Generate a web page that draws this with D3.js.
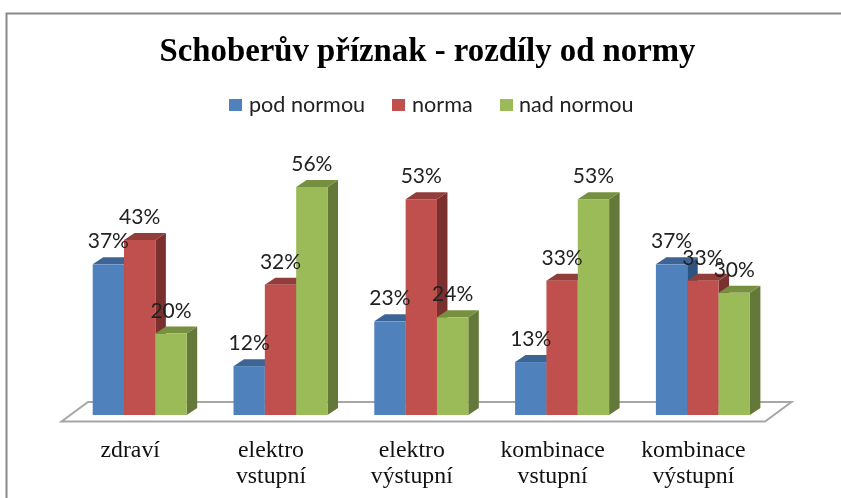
<!DOCTYPE html>
<html><head><meta charset="utf-8">
<script src="https://cdn.jsdelivr.net/npm/d3@7"></script>
<style>html,body{margin:0;padding:0;background:#fff}svg{display:block}</style>
</head><body><svg id="c" width="841" height="498"></svg>
<script>
const titleText = "Schoberův příznak - rozdíly od normy";
const categories = [["zdraví"],["elektro","vstupní"],["elektro","výstupní"],["kombinace","vstupní"],["kombinace","výstupní"]];
const seriesNames = ["pod normou","norma","nad normou"];
const podNormou = [37,12,23,13,37];
const norma = [43,32,53,33,33];
const nadNormou = [20,56,24,53,30];
const colors = ["#4f81bd","#c0504d","#9bbb59"];
const topColors = ["#3c6494","#933d3a","#76903f"];
const sideColors = ["#2f5380","#7a302e","#64783a"];
const series = [podNormou,norma,nadNormou];

const svg = d3.select("#c");
const serif = "'Liberation Serif',serif", sans = "Lato,sans-serif";
const base = 415, dx = 10.5, dy = 7;

// frame
svg.append("path").attr("d","M6.5,498V13.5H841").attr("fill","none").attr("stroke","#8a8a8a").attr("stroke-width",2);

const x0 = d3.scaleBand().domain(d3.range(5)).range([51.5,755.5]).paddingInner(0).paddingOuter(0);
const x1 = d3.scaleBand().domain(d3.range(3)).range([41.2,135.2]);
const y = d3.scaleLinear().domain([0,56]).range([base,187]);

// floor
svg.append("path").attr("d","M61.5,421.5L88,402H791.5L765,421.5Z").attr("fill","#fff").attr("stroke","#a6a6a6").attr("stroke-width",2);

const w = x1.bandwidth();
const labels = [];
categories.forEach((c,i)=>{
  series.forEach((vals,s)=>{
    const X = x0(i)+x1(s), Y = y(vals[i]);
    const g = svg.append("g");
    g.append("path").attr("d",`M${X+w},${Y}l${dx},${-dy}V${base-dy}L${X+w},${base}Z`).attr("fill",sideColors[s]);
    g.append("path").attr("d",`M${X},${Y}l${dx},${-dy}h${w}l${-dx},${dy}Z`).attr("fill",topColors[s]);
    g.append("rect").attr("x",X).attr("y",Y).attr("width",w).attr("height",base-Y).attr("fill",colors[s]);
    labels.push({x:X+w/2,y:Y-16,t:vals[i]+"%"});
  });
  const cx = x0(i)+x1(1)+w/2-9.5;
  const t = svg.append("text").attr("text-anchor","middle")
    .attr("font-family",serif).attr("font-size",23.8).attr("fill","#111");
  c.forEach((line,k)=>t.append("tspan").attr("x",cx).attr("y",456.5+k*26).text(line));
});
labels.forEach(d=>svg.append("text").attr("x",d.x).attr("y",d.y).attr("text-anchor","middle")
  .attr("font-family",sans).attr("font-size",21).attr("fill","#222").text(d.t));

svg.append("text").attr("x",427.5).attr("y",60.5).attr("text-anchor","middle")
  .attr("font-family",serif).attr("font-weight","bold").attr("font-size",32.8).attr("fill","#000").text(titleText);

const legendX = [229,392,500], legendT=[249,412,519];
seriesNames.forEach((n,i)=>{
  svg.append("rect").attr("x",legendX[i]).attr("y",99).attr("width",13).attr("height",12).attr("fill",colors[i]);
  svg.append("text").attr("x",legendT[i]).attr("y",112).attr("font-family",sans).attr("font-size",21.6).attr("fill","#222").text(n);
});
document.getElementById("c").style.filter="blur(0.5px)";
</script></body></html>
